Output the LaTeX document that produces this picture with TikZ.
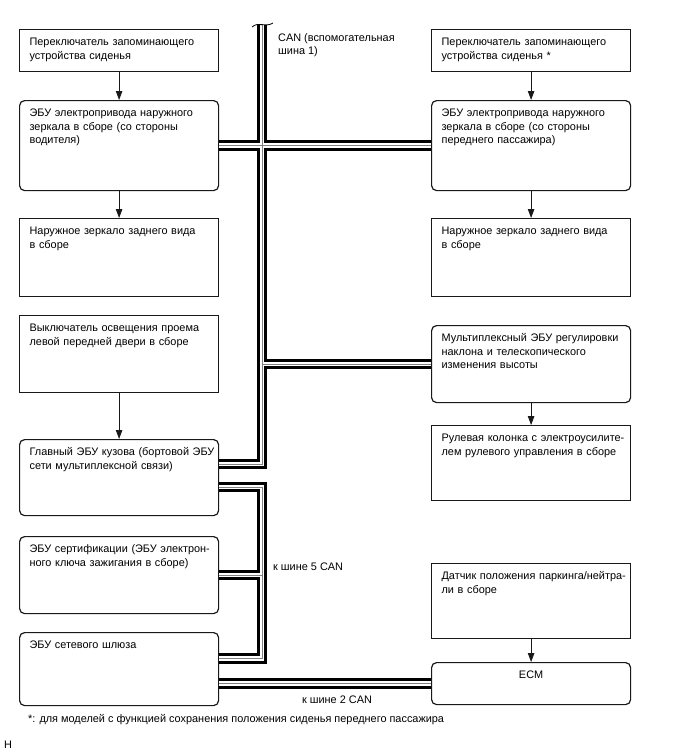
\documentclass[tikz,border=0pt]{standalone}
\usepackage{fontspec}
\setmainfont{Liberation Sans}
\usetikzlibrary{arrows.meta}

\begin{document}
\begin{tikzpicture}[
    x = 1pt, y = -1pt, font = \fontsize{10.9}{13.5}\selectfont,
    blk/.style = {draw = black!90, line width = 1.2pt, anchor = north west,
                  text width = 179pt, align = left, inner xsep = 10pt,
                  inner ysep = 0pt, text height = 16pt},
    sq/.style  = {blk},
    rnd/.style = {blk, rounded corners = 5pt},
    arr/.style = {-{Triangle[length = 9pt, width = 6.5pt]}, line width = .8pt, black!90},
    lbl/.style = {inner sep = 0pt, align = left}
  ]
  \useasboundingbox (0,0) rectangle (688,755);

  % left column ---------------------------------------------------------
  \node[sq, text depth = 26pt] (seatL) at (19,29)
        {Переключатель запоминающего\\устройства сиденья};
  \node[rnd, text depth = 74pt] (ormL) at (19,100)
        {ЭБУ электропривода наружного\\зеркала в сборе (со стороны\\водителя)};
  \node[sq, text depth = 62pt] (mirL) at (19,218)
        {Наружное зеркало заднего вида\\в сборе};
  \node[sq, text depth = 61pt] (doorL) at (19,315)
        {Выключатель освещения проема\\левой передней двери в сборе};
  \node[rnd, text depth = 60pt] (bcm) at (19,439)
        {Главный~ЭБУ~кузова~(бортовой~ЭБУ\\сети мультиплексной связи)};
  \node[rnd, text depth = 61pt] (cert) at (19,536)
        {ЭБУ~сертификации~(ЭБУ~электрон\mbox{-}\\ного ключа зажигания в сборе)};
  \node[rnd, text depth = 57pt] (gw) at (19,632)
        {ЭБУ сетевого шлюза};

  % right column --------------------------------------------------------
  \node[sq, text depth = 26pt] (seatR) at (431,29)
        {Переключатель запоминающего\\устройства сиденья *};
  \node[rnd, text depth = 74pt] (ormR) at (431,100)
        {ЭБУ электропривода наружного\\зеркала в сборе (со стороны\\переднего пассажира)};
  \node[sq, text depth = 62pt] (mirR) at (431,218)
        {Наружное зеркало заднего вида\\в сборе};
  \node[rnd, text depth = 61pt] (tilt) at (431,325)
        {Мультиплексный~ЭБУ~регулировки\\наклона и телескопического\\изменения высоты};
  \node[sq, text depth = 59pt] (eps) at (431,425)
        {Рулевая~колонка~с~электроусилите\mbox{-}\\лем~рулевого~управления~в~сборе};
  \node[sq, text depth = 59pt] (pnp) at (431,563)
        {Датчик~положения~паркинга/нейтра\mbox{-}\\ли в сборе};
  \node[rnd, text depth = 26pt, align = center] (ecm) at (431,662) {ECM};

  % arrows --------------------------------------------------------------
  \draw[arr] (seatL) -- (ormL);
  \draw[arr] (ormL)  -- (mirL);
  \draw[arr] (doorL) -- (bcm);
  \draw[arr] (seatR) -- (ormR);
  \draw[arr] (ormR)  -- (mirR);
  \draw[arr] (tilt)  -- (eps);
  \draw[arr] (pnp)   -- (ecm);

  % buses ---------------------------------------------------------------
  \coordinate (can1) at (262,25);
  \coordinate (g5) at ([yshift = 10.5pt]gw.east);
  \foreach \w/\c in {10.5/black, 4.6/white, 1/black!50} {
    \draw[line width = \w pt, draw = \c] (can1) |- ([yshift = 13.5pt]bcm.east);
    \draw[line width = \w pt, draw = \c] (ormL.east) -- (ormR.west);
    \draw[line width = \w pt, draw = \c] (can1 |- tilt.west) -- (tilt.west);
    \draw[line width = \w pt, draw = \c] ([yshift = -9.5pt]bcm.east) -| (can1 |- g5) -- (g5);
    \draw[line width = \w pt, draw = \c] (cert.east) -- (can1 |- cert.east);
    \draw[line width = \w pt, draw = \c] (gw.east |- ecm.west) -- (ecm.west);
  }
  \draw[line width = .8pt] ([xshift = -10pt, yshift = -2pt]can1)
        .. controls ([xshift = -3pt, yshift = 4pt]can1) and ([xshift = 3pt, yshift = -3pt]can1)
        .. ([xshift = 11pt, yshift = 2pt]can1);

  % labels --------------------------------------------------------------
  \node[lbl, anchor = north west] (canlbl) at (278,33) {CAN (вспомогательная\\шина 1)};
  \node[lbl, anchor = west] (bus5) at (273,567) {к шине 5 CAN};
  \node[lbl] (bus2) at (337,700) {к шине 2 CAN};
  \node[lbl, anchor = west] (note) at (28,720)
        {*: для моделей с функцией сохранения положения сиденья переднего пассажира};
  \node[lbl, anchor = west] (code) at (4,745) {H};

\end{tikzpicture}
\end{document}
